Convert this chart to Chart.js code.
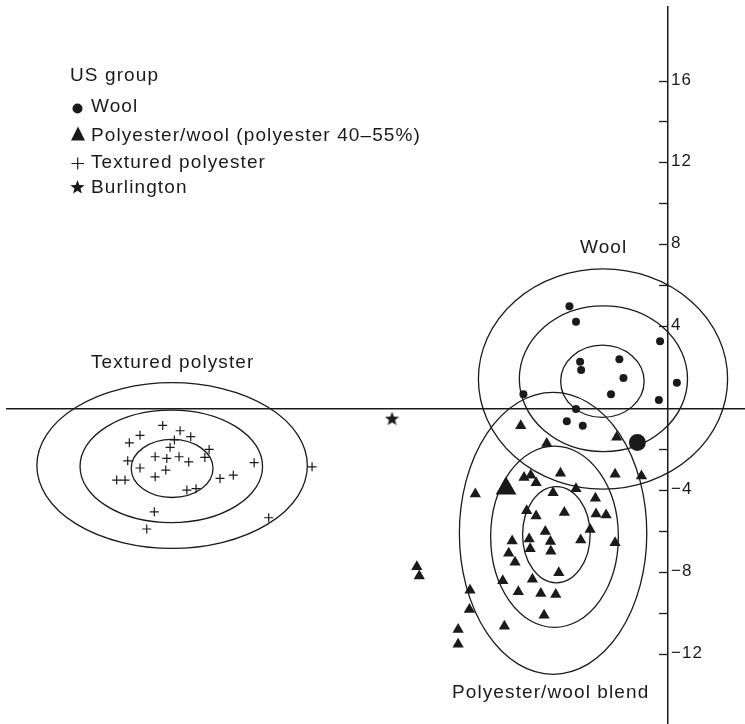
<!DOCTYPE html>
<html>
<head>
<meta charset="utf-8">
<script src="https://cdn.jsdelivr.net/npm/chart.js@4.4.0/dist/chart.umd.min.js"></script>
<style>
  html, body { margin: 0; padding: 0; background: #fff; }
  canvas { display: block; }
</style>
</head>
<body>
<canvas id="chart" width="745" height="724"></canvas>
<script>
// points as [x, y] in plot units
const wool = [
  [-4.82, 5.00], [-4.50, 4.24], [-0.39, 3.29], [-4.30, 2.28], [-4.25, 1.88],
  [-2.38, 2.40], [-2.18, 1.49], [-2.79, 0.69], [0.43, 1.26], [-0.45, 0.41],
  [-7.07, 0.70], [-4.50, -0.03], [-4.95, -0.62], [-4.17, -0.85]
];
const woolLarge = [[-1.50, -1.66]];

const polyWool = [
  [-7.20, -0.85], [-5.93, -1.71], [-2.51, -1.41], [-1.30, -3.30], [-9.42, -4.18],
  [-7.04, -3.37], [-6.71, -3.26], [-6.45, -3.63], [-5.26, -3.17], [-2.59, -3.21],
  [-5.62, -4.12], [-4.50, -3.92], [-3.55, -4.39], [-6.91, -5.00], [-6.45, -5.26],
  [-5.07, -5.08], [-3.52, -5.16], [-3.03, -5.21], [-6.00, -6.01], [-3.81, -5.91],
  [-7.62, -6.48], [-6.79, -6.38], [-5.75, -6.50], [-4.27, -6.43], [-2.59, -6.56],
  [-7.79, -7.08], [-6.74, -6.86], [-5.73, -6.98], [-7.48, -7.52], [-5.34, -8.03],
  [-12.28, -7.74], [-12.16, -8.19], [-8.08, -8.42], [-6.63, -8.35], [-9.68, -8.88],
  [-7.32, -8.96], [-6.22, -9.04], [-5.49, -9.09], [-9.71, -9.82], [-6.06, -10.10],
  [-8.00, -10.64], [-10.26, -10.80], [-10.26, -11.52]
];
const polyWoolLarge = [[-7.92, -3.91]];

const textured = [
  [-24.70, -0.83], [-23.85, -1.09], [-23.33, -1.38], [-25.81, -1.31], [-26.33, -1.68],
  [-24.13, -1.54], [-24.34, -1.90], [-22.43, -2.00], [-22.64, -2.39], [-26.41, -2.56],
  [-25.07, -2.36], [-24.50, -2.44], [-23.90, -2.36], [-23.43, -2.61], [-25.81, -2.91],
  [-24.55, -3.01], [-25.07, -3.34], [-20.23, -2.65], [-26.95, -3.50], [-26.54, -3.50],
  [-21.90, -3.42], [-21.25, -3.26], [-23.52, -3.99], [-23.07, -3.92], [-25.11, -5.05],
  [-19.52, -5.34], [-25.48, -5.89], [-17.40, -2.85]
];

const burlington = [[-13.49, -0.52]];

// group ellipses: [centre x, centre y, half width, half height]
const woolEllipses = [
  [-3.18, 1.44, 6.09, 5.38],
  [-3.16, 1.45, 4.11, 3.56],
  [-3.21, 1.33, 2.04, 1.77]
];
const blendEllipses = [
  [-5.62, -6.10, 4.58, 6.89],
  [-5.55, -6.27, 3.12, 4.43],
  [-5.46, -6.17, 1.65, 2.35]
];
const texturedEllipses = [
  [-24.24, -2.79, 6.61, 4.05],
  [-24.28, -2.83, 4.46, 2.75],
  [-24.24, -2.93, 2.00, 1.42]
];

const yTicks = [16, 14, 12, 10, 8, 6, 4, -2, -4, -6, -8, -10, -12];
const yTickLabels = [16, 12, 8, 4, -4, -8, -12];
const xRange = [-32.31, 3.76];
const yRange = [-15.42, 19.62];

const ink = '#1a1a1a';
const font = '19px "Liberation Sans", Arial, Helvetica, sans-serif';

const toXY = arr => arr.map(p => ({ x: p[0], y: p[1] }));

// filled five point star used as a point style
function makeStar(size) {
  const c = document.createElement('canvas');
  c.width = size;
  c.height = size;
  const g = c.getContext('2d');
  const r = size / 2, ri = r * 0.42;
  g.fillStyle = ink;
  g.beginPath();
  for (let i = 0; i < 10; i++) {
    const a = -Math.PI / 2 + i * Math.PI / 5;
    const rr = i % 2 ? ri : r;
    g.lineTo(r + Math.cos(a) * rr, r + Math.sin(a) * rr);
  }
  g.closePath();
  g.fill();
  return c;
}
const star = makeStar(15);

const ellipsePlugin = {
  id: 'ellipses',
  beforeDatasetsDraw(chart) {
    const { ctx, scales: { x, y } } = chart;
    ctx.save();
    ctx.strokeStyle = ink;
    ctx.lineWidth = 1.3;
    [woolEllipses, blendEllipses, texturedEllipses].forEach(group => {
      group.forEach(e => {
        const cx = x.getPixelForValue(e[0]);
        const cy = y.getPixelForValue(e[1]);
        const rx = x.getPixelForValue(e[0] + e[2]) - cx;
        const ry = cy - y.getPixelForValue(e[1] + e[3]);
        ctx.beginPath();
        ctx.ellipse(cx, cy, rx, ry, 0, 0, Math.PI * 2);
        ctx.stroke();
      });
    });
    ctx.restore();
  }
};

const textPlugin = {
  id: 'texts',
  afterDraw(chart) {
    const { ctx, scales: { x, y } } = chart;
    ctx.save();
    ctx.fillStyle = ink;
    ctx.strokeStyle = ink;

    // y tick labels, right of the axis
    ctx.font = '17px "Liberation Sans", Arial, Helvetica, sans-serif';
    ctx.letterSpacing = '1px';
    ctx.textBaseline = 'alphabetic';
    const x0 = x.getPixelForValue(0) + 3;
    yTickLabels.forEach(v => {
      ctx.fillText(String(v).replace('-', '\u2212'), x0, y.getPixelForValue(v) + 3.5);
    });

    // group names
    ctx.font = font;
    ctx.letterSpacing = '1.1px';
    ctx.fillText('Wool', 580, 253);
    ctx.fillText('Textured polyster', 91, 368);
    ctx.fillText('Polyester/wool blend', 452, 698);

    // legend
    ctx.fillText('US group', 70, 81);
    ctx.fillText('Wool', 91, 112);
    ctx.fillText('Polyester/wool (polyester 40\u201355%)', 91, 141);
    ctx.fillText('Textured polyester', 91, 168);
    ctx.fillText('Burlington', 91, 193);

    ctx.beginPath();
    ctx.arc(77.5, 108.5, 5, 0, Math.PI * 2);
    ctx.fill();

    ctx.beginPath();
    ctx.moveTo(78, 126.5);
    ctx.lineTo(85, 140.5);
    ctx.lineTo(71, 140.5);
    ctx.closePath();
    ctx.fill();

    ctx.lineWidth = 1.2;
    ctx.beginPath();
    ctx.moveTo(71.5, 163.5);
    ctx.lineTo(84, 163.5);
    ctx.moveTo(77.7, 157.5);
    ctx.lineTo(77.7, 169.5);
    ctx.stroke();

    ctx.drawImage(star, 70, 180);
    ctx.restore();
  }
};

new Chart(document.getElementById('chart'), {
  type: 'scatter',
  data: {
    datasets: [
      { label: 'Wool', data: toXY(wool), pointStyle: 'circle', pointRadius: 4,
        backgroundColor: ink, borderWidth: 0 },
      { label: 'Wool', data: toXY(woolLarge), pointStyle: 'circle', pointRadius: 8.5,
        backgroundColor: ink, borderWidth: 0 },
      { label: 'Polyester/wool', data: toXY(polyWool), pointStyle: 'triangle', pointRadius: 6.5,
        backgroundColor: ink, borderWidth: 0 },
      { label: 'Polyester/wool', data: toXY(polyWoolLarge), pointStyle: 'triangle', pointRadius: 12,
        backgroundColor: ink, borderWidth: 0 },
      { label: 'Textured polyester', data: toXY(textured), pointStyle: 'cross', pointRadius: 4.5,
        borderColor: ink, borderWidth: 1.2 },
      { label: 'Burlington', data: toXY(burlington), pointStyle: star, pointRadius: 7 }
    ]
  },
  options: {
    responsive: false,
    animation: false,
    layout: { autoPadding: false, padding: { left: 7, top: 7, right: 0, bottom: 0 } },
    plugins: {
      legend: { display: false },
      tooltip: { enabled: false }
    },
    scales: {
      x: {
        type: 'linear',
        min: xRange[0],
        max: xRange[1],
        position: { y: 0 },
        ticks: { display: false },
        grid: { display: false },
        border: { color: ink, width: 1.5 }
      },
      y: {
        type: 'linear',
        min: yRange[0],
        max: yRange[1],
        position: { x: 0 },
        afterBuildTicks: scale => {
          scale.ticks = yTicks.map(v => ({ value: v }));
        },
        ticks: { display: false },
        grid: { drawOnChartArea: false, drawTicks: true, tickLength: 8, tickColor: ink, tickWidth: 1.3 },
        border: { color: ink, width: 1.5 }
      }
    }
  },
  plugins: [ellipsePlugin, textPlugin]
});
</script>
</body>
</html>
